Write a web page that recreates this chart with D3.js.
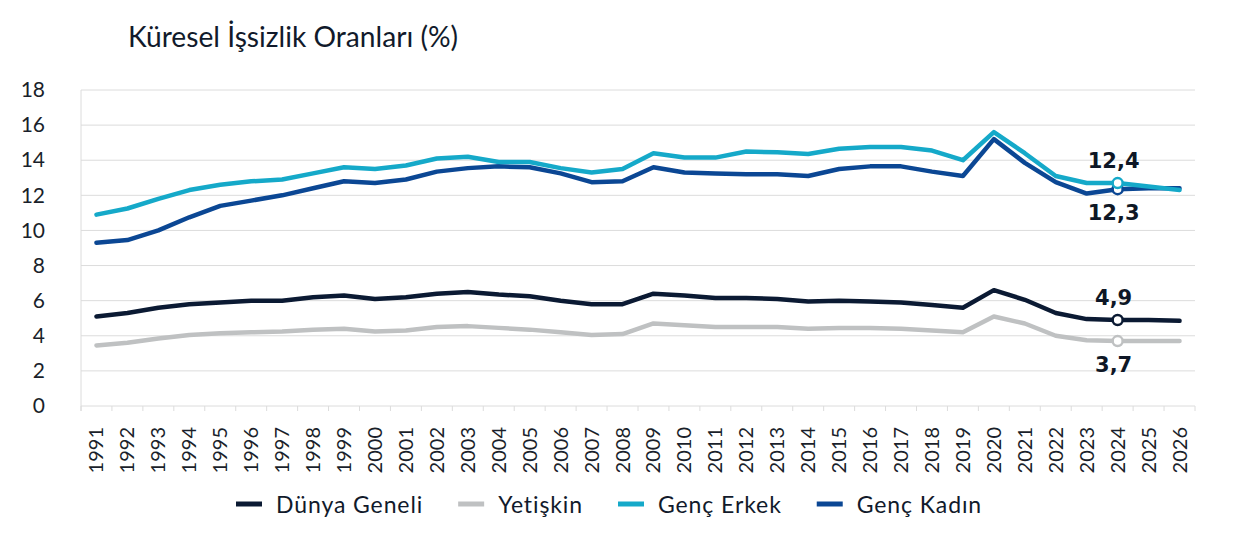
<!DOCTYPE html>
<html>
<head>
<meta charset="utf-8">
<script src="https://cdn.jsdelivr.net/npm/d3@7"></script>
<style>
body { margin: 0; background: #fff; }
</style>
</head>
<body>
<div id="chart"></div>
<script>
// data
const years = [1991, 1992, 1993, 1994, 1995, 1996, 1997, 1998, 1999, 2000, 2001, 2002,
    2003, 2004, 2005, 2006, 2007, 2008, 2009, 2010, 2011, 2012, 2013, 2014,
    2015, 2016, 2017, 2018, 2019, 2020, 2021, 2022, 2023, 2024, 2025, 2026];

const dunyaGeneli = [5.1, 5.3, 5.6, 5.8, 5.9, 6.0, 6.0, 6.2, 6.3, 6.1, 6.2, 6.4,
    6.5, 6.35, 6.25, 6.0, 5.8, 5.8, 6.4, 6.3, 6.15, 6.15, 6.1, 5.95,
    6.0, 5.95, 5.9, 5.75, 5.6, 6.6, 6.05, 5.3, 4.95, 4.9, 4.9, 4.85];

const yetiskin = [3.45, 3.6, 3.85, 4.05, 4.15, 4.2, 4.25, 4.35, 4.4, 4.25, 4.3, 4.5,
    4.55, 4.45, 4.35, 4.2, 4.05, 4.1, 4.7, 4.6, 4.5, 4.5, 4.5, 4.4,
    4.45, 4.45, 4.4, 4.3, 4.2, 5.1, 4.7, 4.0, 3.75, 3.7, 3.7, 3.7];

const gencErkek = [10.9, 11.25, 11.8, 12.3, 12.6, 12.8, 12.9, 13.25, 13.6, 13.5, 13.7, 14.1,
    14.2, 13.9, 13.9, 13.55, 13.3, 13.5, 14.4, 14.15, 14.15, 14.5, 14.45, 14.35,
    14.65, 14.75, 14.75, 14.55, 14.0, 15.6, 14.4, 13.1, 12.7, 12.7, 12.5, 12.3];

const gencKadin = [9.3, 9.45, 10.0, 10.75, 11.4, 11.7, 12.0, 12.4, 12.8, 12.7, 12.9, 13.35,
    13.55, 13.65, 13.6, 13.25, 12.75, 12.8, 13.6, 13.3, 13.25, 13.2, 13.2, 13.1,
    13.5, 13.65, 13.65, 13.35, 13.1, 15.2, 13.85, 12.75, 12.1, 12.35, 12.4, 12.4];

const seriesNames = ["Dünya Geneli", "Yetişkin", "Genç Erkek", "Genç Kadın"];
const seriesValues = [dunyaGeneli, yetiskin, gencErkek, gencKadin];
const seriesColors = ["#0b1a33", "#bfc1c2", "#15a9c9", "#0b4794"];
const drawOrder = [1, 0, 3, 2];

const yTicks = [0, 2, 4, 6, 8, 10, 12, 14, 16, 18];

// labelled points in 2024: series index, label, above / below
const annYear = 2024;
const annSeries = [3, 2, 0, 1];
const annLabels = ["12,3", "12,4", "4,9", "3,7"];
const annSide = ["down", "up", "up", "down"];

const W = 1250, H = 543;
const margin = {left: 81, right: 55, top: 90, bottom: 137};

const svg = d3.select("#chart").append("svg")
    .attr("width", W)
    .attr("height", H)
    .style("font-family", "Lato, 'Open Sans', sans-serif");

svg.append("rect").attr("width", W).attr("height", H).attr("fill", "#fff");

// title
svg.append("text")
    .attr("x", 128)
    .attr("y", 47)
    .attr("font-size", "28.2px")
    .attr("fill", "#111a2b")
    .text("Küresel İşsizlik Oranları (%)");

const x = d3.scaleBand()
    .domain(years)
    .range([margin.left, W - margin.right])
    .padding(0);

const xc = (d) => x(d) + x.bandwidth() / 2;

const y = d3.scaleLinear()
    .domain([0, 18])
    .range([H - margin.bottom, margin.top]);

// gridlines
svg.append("g")
    .selectAll("line")
    .data(yTicks)
    .join("line")
        .attr("x1", margin.left)
        .attr("x2", W - margin.right)
        .attr("y1", (d) => y(d))
        .attr("y2", (d) => y(d))
        .attr("stroke", "#dcdcdc")
        .attr("stroke-width", 1);

// left axis line
svg.append("line")
    .attr("x1", margin.left).attr("x2", margin.left)
    .attr("y1", y(18)).attr("y2", y(0) + 5)
    .attr("stroke", "#dcdcdc");

// y axis labels
const yAxis = svg.append("g")
    .attr("transform", `translate(${margin.left},0)`)
    .call(d3.axisLeft(y).tickValues(yTicks).tickSize(0).tickPadding(36));
yAxis.select(".domain").remove();
yAxis.selectAll("text")
    .attr("font-size", "21px")
    .attr("font-family", "Lato, sans-serif")
    .attr("fill", "#1a1f2b");

// x ticks at band edges
svg.append("g")
    .selectAll("line")
    .data(years.concat([null]))
    .join("line")
        .attr("x1", (d) => d === null ? x.range()[1] : x(d))
        .attr("x2", (d) => d === null ? x.range()[1] : x(d))
        .attr("y1", y(0))
        .attr("y2", y(0) + 5)
        .attr("stroke", "#dcdcdc");

// x labels, rotated
svg.append("g")
    .selectAll("text")
    .data(years)
    .join("text")
        .attr("transform", (d) => `translate(${xc(d)},${y(0) + 21}) rotate(-90)`)
        .attr("text-anchor", "end")
        .attr("dy", "0.35em")
        .attr("font-size", "20px")
        .attr("fill", "#1a1f2b")
        .text((d) => d);

// lines
const line = d3.line()
    .x((d, i) => xc(years[i]))
    .y((d) => y(d));

svg.append("g")
    .selectAll("path")
    .data(drawOrder)
    .join("path")
        .attr("d", (s) => line(seriesValues[s]))
        .attr("fill", "none")
        .attr("stroke", (s) => seriesColors[s])
        .attr("stroke-width", 4.5)
        .attr("stroke-linejoin", "round")
        .attr("stroke-linecap", "round");

// markers + value labels
const ai = years.indexOf(annYear);
const ann = svg.append("g");
annSeries.forEach((s, k) => {
    const v = seriesValues[s][ai];
    ann.append("circle")
        .attr("cx", xc(annYear))
        .attr("cy", y(v))
        .attr("r", 5)
        .attr("fill", "#fff")
        .attr("stroke", seriesColors[s])
        .attr("stroke-width", 2.5);
});
annSeries.forEach((s, k) => {
    const v = seriesValues[s][ai];
    ann.append("text")
        .attr("x", xc(annYear) - 4)
        .attr("y", annSide[k] == "up" ? y(v) - 15 : y(v) + 31)
        .attr("text-anchor", "middle")
        .attr("font-family", "'DejaVu Sans', sans-serif")
        .attr("font-weight", "bold")
        .attr("font-size", "21px")
        .attr("fill", "#0e1726")
        .text(annLabels[k]);
});

// legend
const legend = svg.append("g").attr("transform", "translate(236,505)");
let lx = 0;
seriesNames.forEach((name, i) => {
    legend.append("line")
        .attr("x1", lx).attr("x2", lx + 26)
        .attr("y1", -1).attr("y2", -1)
        .attr("stroke", seriesColors[i])
        .attr("stroke-width", 5);
    const t = legend.append("text")
        .attr("x", lx + 40)
        .attr("y", 0)
        .attr("dy", "0.35em")
        .attr("font-size", "23px")
        .attr("letter-spacing", "0.9px")
        .attr("fill", "#111a2b")
        .text(name);
    lx += 40 + t.node().getComputedTextLength() + 35;
});
</script>
</body>
</html>
